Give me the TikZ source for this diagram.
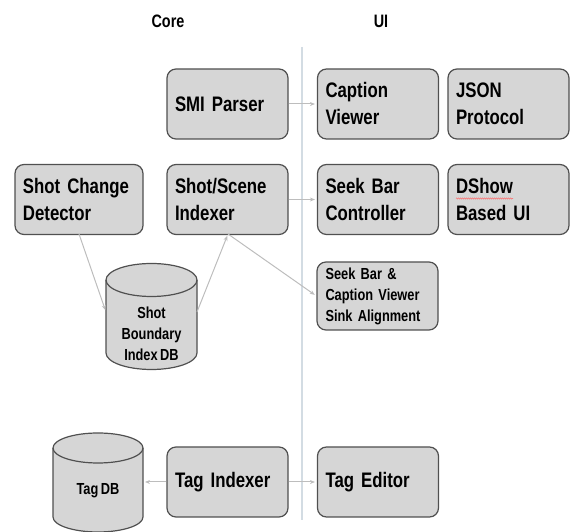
\documentclass[tikz,border=0pt]{standalone}
\usepackage{fontspec}
\setmainfont{Liberation Sans}[FakeStretch=0.8, WordSpace=0.7]
\usetikzlibrary{arrows.meta,decorations.pathmorphing}
\definecolor{boxfill}{HTML}{D6D6D6}
\definecolor{boxline}{HTML}{505050}
\definecolor{conn}{HTML}{BDBDBD}
\definecolor{divider}{HTML}{D3DCE3}
\tikzset{
  box/.style={draw=boxline, fill=boxfill, line width=1.2pt, rounded corners=9pt,
    minimum width=121pt, minimum height=70pt, text width=105pt, inner xsep=8pt,
    align=left, font=\fontsize{21}{27}\selectfont\bfseries},
  smallbox/.style={box, minimum height=68pt, text width=104pt, inner xsep=8.5pt,
    font=\fontsize{16}{21}\selectfont\bfseries},
  dbshape/.style={draw=boxline, fill=boxfill, line width=1.2pt},
  dbtext/.style={align=center, font=\fontsize{16}{21}\selectfont\bfseries},
  header/.style={font=\fontsize{18}{22}\selectfont\bfseries},
  conn/.style={draw=conn, line width=1pt},
  arr/.style={conn, -{Stealth[length=5pt,width=4pt]}, shorten >=2pt}
}
\begin{document}
\begin{tikzpicture}[x=1pt,y=1pt]
\useasboundingbox (0,0) rectangle (573,532);
% headers
\node[header] (core) at (168,510.5) {Core};
\node[header] (ui) at (381,510.5) {UI};
% divider
\coordinate (divtop) at (302,485);
\coordinate (divbot) at (302,12);
\draw[draw=divider, line width=1.2pt] (divtop) -- (divbot);
% row 1
\node[box] (smi) at (227.5,428) {SMI Parser};
\node[box] (cap) at (378,428) {Caption\\Viewer};
\node[box] (json) at (508.5,428) {JSON\\Protocol};
% row 2
\node[box, minimum width=128pt, text width=112pt] (scd) at (79,332.5) {Shot Change\\Detector};
\node[box] (ssi) at (227.5,332.5) {Shot/Scene\\Indexer};
\node[box] (sbc) at (378,332.5) {Seek Bar\\Controller};
\node[box] (dshow) at (508.5,332.5) {DShow\\Based UI};
\draw[draw=red!60, line width=0.5pt, decorate, decoration={snake, amplitude=0.6pt, segment length=2pt}]
  (456,333.5) -- (513,333.5);
% sink alignment
\node[smallbox] (sink) at (377.5,236) {Seek Bar \&\\Caption Viewer\\Sink Alignment};
% shot boundary DB cylinder
\path[dbshape] (106,252) -- (106,179) arc (180:360:45.5pt and 16.5pt) -- (197,252)
  arc (0:180:45.5pt and 16.5pt) -- cycle;
\draw[draw=boxline, line width=1.2pt] (106,252) arc (180:360:45.5pt and 16.5pt);
\node[dbtext] (sbdb) at (151.5,198) {Shot\\Boundary\\Index DB};
\coordinate (sbdbL) at (106,220);
\coordinate (sbdbR) at (197,220);
% tag DB cylinder
\path[dbshape] (53,84) -- (53,15) arc (180:360:45pt and 15pt) -- (143,84)
  arc (0:180:45pt and 15pt) -- cycle;
\draw[draw=boxline, line width=1.2pt] (53,84) arc (180:360:45pt and 15pt);
\node[dbtext] (tagdb) at (98,41) {Tag DB};
\coordinate (tagdbR) at (143,50);
% row 3
\node[box] (tagi) at (227.5,50) {Tag Indexer};
\node[box] (tage) at (378,50) {Tag Editor};
% connectors
\coordinate (scdB) at (79,298);
\coordinate (ssiB) at (228,298);
\draw[arr] (smi.east) -- (cap.west);
\draw[arr] (ssi.east) -- (sbc.west);
\draw[arr] (scdB) -- (sbdbL);
\draw[arr] (sbdbR) -- (ssiB);
\draw[arr] (ssiB) -- (sink.west);
\draw[arr] (tagi.west) -- (tagdbR);
\draw[arr] (tagi.east) -- (tage.west);
\end{tikzpicture}
\end{document}
